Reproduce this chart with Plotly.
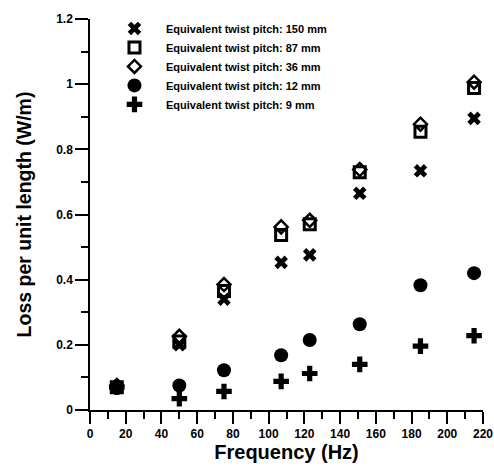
import plotly.graph_objects as go

freq = [15, 50, 75, 107, 123, 151, 185, 215]
loss_150 = [0.07, 0.20, 0.34, 0.453, 0.476, 0.665, 0.734, 0.895]
loss_87 = [0.07, 0.21, 0.365, 0.537, 0.57, 0.73, 0.854, 0.988]
loss_36 = [0.075, 0.226, 0.385, 0.562, 0.582, 0.738, 0.877, 1.006]
loss_12 = [0.07, 0.075, 0.122, 0.168, 0.215, 0.263, 0.383, 0.42]
loss_9 = [0.07, 0.035, 0.057, 0.088, 0.112, 0.14, 0.196, 0.228]

names = ["Equivalent twist pitch: 150 mm", "Equivalent twist pitch: 87 mm",
         "Equivalent twist pitch: 36 mm", "Equivalent twist pitch: 12 mm",
         "Equivalent twist pitch: 9 mm"]

FONT = "Arial, Liberation Sans, sans-serif"
fig = go.Figure()
fig.add_trace(go.Scatter(x=freq, y=loss_150, mode="markers", name=names[0], legendrank=1,
                         marker=dict(symbol="x", size=12, color="black", line=dict(width=0))))
fig.add_trace(go.Scatter(x=freq, y=loss_36, mode="markers", name=names[2], legendrank=3,
                         marker=dict(symbol="diamond-open", size=10, color="black", line=dict(width=2.5))))
fig.add_trace(go.Scatter(x=freq, y=loss_87, mode="markers", name=names[1], legendrank=2,
                         marker=dict(symbol="square-open", size=11, color="black", line=dict(width=3))))
fig.add_trace(go.Scatter(x=freq, y=loss_12, mode="markers", name=names[3], legendrank=4,
                         marker=dict(symbol="circle", size=14, color="black")))
fig.add_trace(go.Scatter(x=freq, y=loss_9, mode="markers", name=names[4], legendrank=5,
                         marker=dict(symbol="cross", size=13, color="black", line=dict(width=0))))

fig.update_layout(
    width=494, height=471,
    margin=dict(l=90, r=11, t=19, b=61, autoexpand=False),
    plot_bgcolor="white", paper_bgcolor="white",
    font=dict(family=FONT, color="black", size=12, weight="bold"),
    showlegend=True,
    legend=dict(x=0.033, y=1.013, xanchor="left", yanchor="top", bgcolor="rgba(0,0,0,0)",
                font=dict(size=11, family=FONT, weight="bold"), tracegroupgap=0,
                itemwidth=53),
    xaxis=dict(range=[0, 220], dtick=20, tick0=0, showgrid=False, zeroline=False,
               showline=True, linecolor="black", linewidth=1.5, automargin=False,
               ticks="outside", ticklen=12, tickwidth=1.5, tickcolor="black",
               minor=dict(dtick=10, ticks="outside", ticklen=7, tickwidth=1.5, tickcolor="black"),
               title=dict(text="Frequency (Hz)", font=dict(size=20, family=FONT, weight="bold"), standoff=2),
               tickfont=dict(size=12, family=FONT, weight="bold")),
    yaxis=dict(range=[0, 1.2], dtick=0.2, tick0=0, showgrid=False, zeroline=False,
               showline=True, linecolor="black", linewidth=1.5, automargin=False,
               ticks="outside", ticklen=13, tickwidth=1.5, tickcolor="black",
               minor=dict(dtick=0.1, ticks="outside", ticklen=7, tickwidth=1.5, tickcolor="black"),
               title=dict(text="Loss per unit length (W/m)", font=dict(size=19.5, family=FONT, weight="bold"), standoff=19),
               tickfont=dict(size=12, family=FONT, weight="bold")),
)

fig.write_html("out.html", config={"displayModeBar": False},
               post_script="document.body.style.margin='0';document.body.style.overflow='hidden';")
